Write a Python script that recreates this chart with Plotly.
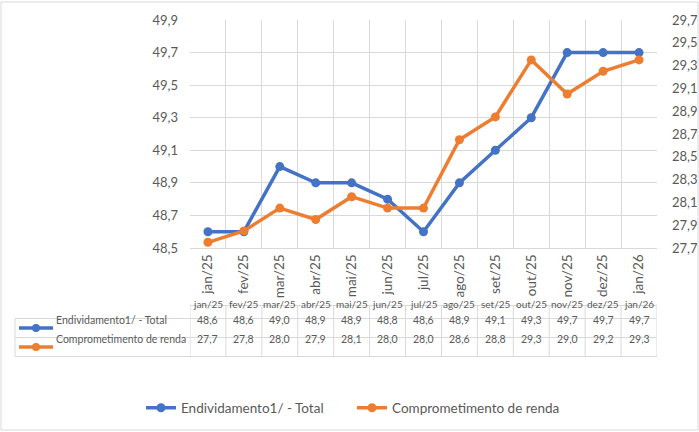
import plotly.graph_objects as go

# ── Données ───────────────────────────────────────────────
meses = ["jan/25", "fev/25", "mar/25", "abr/25", "mai/25", "jun/25", "jul/25",
         "ago/25", "set/25", "out/25", "nov/25", "dez/25", "jan/26"]
endividamento = [48.6, 48.6, 49.0, 48.9, 48.9, 48.8, 48.6, 48.9, 49.1, 49.3, 49.7, 49.7, 49.7]
comprometimento = [27.7, 27.8, 28.0, 27.9, 28.1, 28.0, 28.0, 28.6, 28.8, 29.3, 29.0, 29.2, 29.3]
nome_end = "Endividamento1/ - Total"
nome_comp = "Comprometimento de renda"
ticks_dir = ["27,7", "27,9", "28,1", "28,3", "28,5", "28,7", "28,9", "29,1", "29,3", "29,5", "29,7"]

AZUL = "#4472C4"
LARANJA = "#ED7D31"
CINZA = "#D9D9D9"
TEXTO = "#595959"
FONTE = "Lato"

fig = go.Figure()
fig.add_trace(go.Scatter(
    x=meses, y=endividamento, name=nome_end, mode="lines+markers",
    line=dict(color=AZUL, width=3.5), marker=dict(size=9, color=AZUL),
))
fig.add_trace(go.Scatter(
    x=meses, y=comprometimento, name=nome_comp, mode="lines+markers", yaxis="y2",
    line=dict(color=LARANJA, width=3.5), marker=dict(size=9, color=LARANJA),
))

# ── Tabela de dados (abaixo do eixo) ──────────────────────
L, R, T, B = 190, 42, 20, 184
W, H = 699, 432
pw, ph = W - L - R, H - T - B

def py(pix):   # pixel y da página -> y em "paper"
    return (T + ph - pix) / ph

def px_(pix):  # pixel x da página -> x em "paper"
    return (pix - L) / pw

n = len(meses)
y_top, y_h, y_r1, y_r2 = py(305.5), py(318.5), py(337.5), py(356.5)
x_left = px_(15)
shapes = []
line = dict(color=CINZA, width=1)
shapes.append(dict(type="line", xref="x", yref="paper", x0=-0.5, x1=n - 0.5, y0=y_top, y1=y_top, line=line))
for yy in (y_h, y_r1, y_r2):
    shapes.append(dict(type="line", xref="paper", yref="paper", x0=x_left, x1=1, y0=yy, y1=yy, line=line))
shapes.append(dict(type="line", xref="paper", yref="paper", x0=x_left, x1=x_left, y0=y_h, y1=y_r2, line=line))
for i in range(n + 1):
    shapes.append(dict(type="line", xref="x", yref="paper", x0=i - 0.5, x1=i - 0.5, y0=y_top, y1=y_r2, line=line))

annotations = []
fnt = dict(family=FONTE, size=10.5, color=TEXTO)
fnt_h = dict(family=FONTE, size=10, color=TEXTO)
for i, m in enumerate(meses):
    annotations.append(dict(x=i, y=(y_top + y_h) / 2, xref="x", yref="paper", text=m,
                            showarrow=False, font=fnt_h))
    annotations.append(dict(x=i, y=(y_h + y_r1) / 2, xref="x", yref="paper",
                            text=f"{endividamento[i]:.1f}".replace(".", ","), showarrow=False, font=fnt))
    annotations.append(dict(x=i, y=(y_r1 + y_r2) / 2, xref="x", yref="paper",
                            text=f"{comprometimento[i]:.1f}".replace(".", ","), showarrow=False, font=fnt))

for nome, cor, y0, y1 in ((nome_end, AZUL, y_h, y_r1), (nome_comp, LARANJA, y_r1, y_r2)):
    yc = (y0 + y1) / 2
    shapes.append(dict(type="line", xref="paper", yref="paper", x0=px_(19), x1=px_(53), y0=yc, y1=yc,
                       line=dict(color=cor, width=3.5)))
    shapes.append(dict(type="circle", xref="paper", yref="paper", x0=px_(32), x1=px_(40),
                       y0=yc - 4 / ph, y1=yc + 4 / ph, fillcolor=cor, line=dict(color=cor, width=0)))
    annotations.append(dict(x=px_(54), y=yc, xref="paper", yref="paper", text=nome, showarrow=False,
                            xanchor="left", font=fnt))

# moldura do gráfico
shapes.append(dict(type="rect", xref="paper", yref="paper", x0=px_(1), x1=px_(698), y0=py(2), y1=py(430),
                   line=dict(color=CINZA, width=1)))

fig.update_layout(
    width=W, height=H,
    margin=dict(l=L, r=R, t=T, b=B, autoexpand=False),
    paper_bgcolor="white", plot_bgcolor="white",
    separators=",.",
    font=dict(family=FONTE, color=TEXTO, size=13),
    shapes=shapes, annotations=annotations,
    showlegend=True,
    legend=dict(orientation="h", x=px_(141), xanchor="left", y=py(408), yanchor="middle",
                font=dict(family=FONTE, size=13.5, color=TEXTO), traceorder="normal",
                itemwidth=30, entrywidth=166),
    xaxis=dict(
        type="category", range=[-0.5, n - 0.5], tickson="boundaries", showgrid=True,
        gridcolor=CINZA, gridwidth=1, tickangle=-90, ticks="", showline=True, linecolor=CINZA,
        tickfont=dict(family=FONTE, size=13.5, color=TEXTO), zeroline=False, automargin=False,
    ),
    yaxis=dict(
        range=[48.5, 49.9], dtick=0.2, tick0=48.5, tickformat=".1f", showgrid=True, gridcolor=CINZA,
        zeroline=False, showline=False, ticks="", ticklabelstandoff=11, automargin=False,
        tickfont=dict(family=FONTE, size=13, color=TEXTO),
    ),
    yaxis2=dict(
        overlaying="y", side="right", range=[27.65, 29.65],
        tickvals=[27.65 + 0.2 * k for k in range(len(ticks_dir))], ticktext=ticks_dir,
        showgrid=False, zeroline=False, showline=False, ticks="", ticklabelstandoff=14,
        tickfont=dict(family=FONTE, size=13, color=TEXTO), automargin=False,
    ),
)

fig.write_html("out.html", config={"displayModeBar": False},
               post_script="document.body.style.margin = '0';")
